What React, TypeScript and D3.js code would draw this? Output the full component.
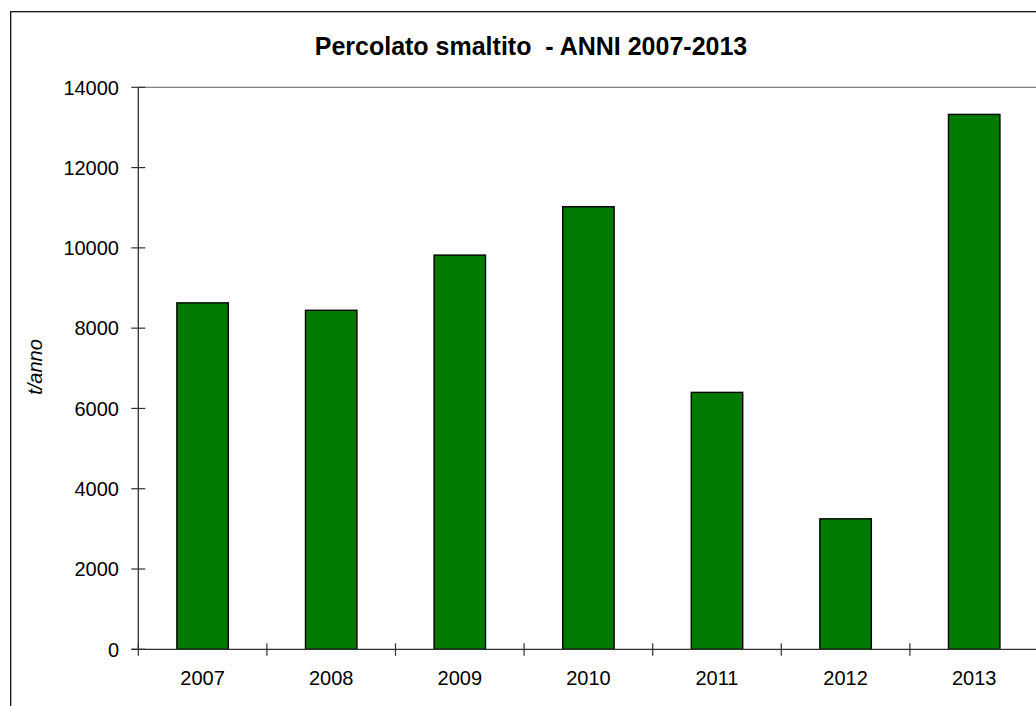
import React from "react";
import * as d3 from "d3";

// Leachate disposed per year (t/anno)
const years = ["2007", "2008", "2009", "2010", "2011", "2012", "2013"];
const tonnes = [8630, 8445, 9820, 11025, 6400, 3250, 13325];
const yTicks = [0, 2000, 4000, 6000, 8000, 10000, 12000, 14000];

const title = "Percolato smaltito  - ANNI 2007-2013";
const yLabel = "t/anno";

const W = 1036;
const H = 706;
const plot = { left: 138.3, top: 87.3, bottom: 649.3, right: 138.3 + 7 * 128.6 };
const FONT = "'Liberation Sans', Arial, Helvetica, sans-serif";

export default function App() {
  const x = d3
    .scaleBand<string>()
    .domain(years)
    .range([plot.left, plot.right])
    .paddingInner(0.6)
    .paddingOuter(0.3);
  const y = d3.scaleLinear().domain([0, 14000]).range([plot.bottom, plot.top]);
  const step = x.step();
  const boundaries = d3.range(years.length + 1).map((i) => plot.left + i * step);

  return (
    <svg
      width={W}
      height={H}
      style={{ position: "absolute", left: 0, top: 0, display: "block", background: "#fff" }}
    >
      {/* chart frame */}
      <rect x={10.7} y={11.7} width={W + 20} height={H + 20} fill="none" stroke="#000" strokeWidth={1.2} />

      <text
        x={531}
        y={55}
        textAnchor="middle"
        fontFamily={FONT}
        fontWeight="bold"
        fontSize={25}
        fill="#000"
        style={{ whiteSpace: "pre" }}
      >
        {title}
      </text>

      {/* plot area top border */}
      <line x1={plot.left} x2={W + 5} y1={plot.top} y2={plot.top} stroke="#808080" strokeWidth={1.2} />

      {/* bars */}
      {years.map((yr, i) => (
        <rect
          key={yr}
          x={x(yr)}
          y={y(tonnes[i])}
          width={x.bandwidth()}
          height={plot.bottom - y(tonnes[i])}
          fill="#007a00"
          stroke="#000"
          strokeWidth={1.4}
        />
      ))}

      {/* y axis */}
      <line x1={plot.left} x2={plot.left} y1={plot.top} y2={plot.bottom} stroke="#303030" strokeWidth={1.3} />
      {yTicks.map((t) => (
        <g key={t}>
          <line x1={plot.left - 7} x2={plot.left + 7} y1={y(t)} y2={y(t)} stroke="#303030" strokeWidth={1.2} />
          <text
            x={119}
            y={y(t)}
            dy="0.36em"
            textAnchor="end"
            fontFamily={FONT}
            fontSize={20}
            fill="#000"
          >
            {t}
          </text>
        </g>
      ))}

      {/* x axis */}
      <line x1={plot.left - 7} x2={W + 5} y1={plot.bottom} y2={plot.bottom} stroke="#303030" strokeWidth={1.3} />
      {boundaries.map((bx, i) => (
        <line key={i} x1={bx} x2={bx} y1={plot.bottom - 6} y2={plot.bottom + 6.5} stroke="#303030" strokeWidth={1.2} />
      ))}
      {years.map((yr) => (
        <text
          key={yr}
          x={(x(yr) as number) + x.bandwidth() / 2}
          y={685}
          textAnchor="middle"
          fontFamily={FONT}
          fontSize={20}
          fill="#000"
        >
          {yr}
        </text>
      ))}

      <text
        transform={`translate(42,367) rotate(-90)`}
        textAnchor="middle"
        fontFamily={FONT}
        fontStyle="italic"
        fontSize={20}
        fill="#000"
      >
        {yLabel}
      </text>
    </svg>
  );
}
